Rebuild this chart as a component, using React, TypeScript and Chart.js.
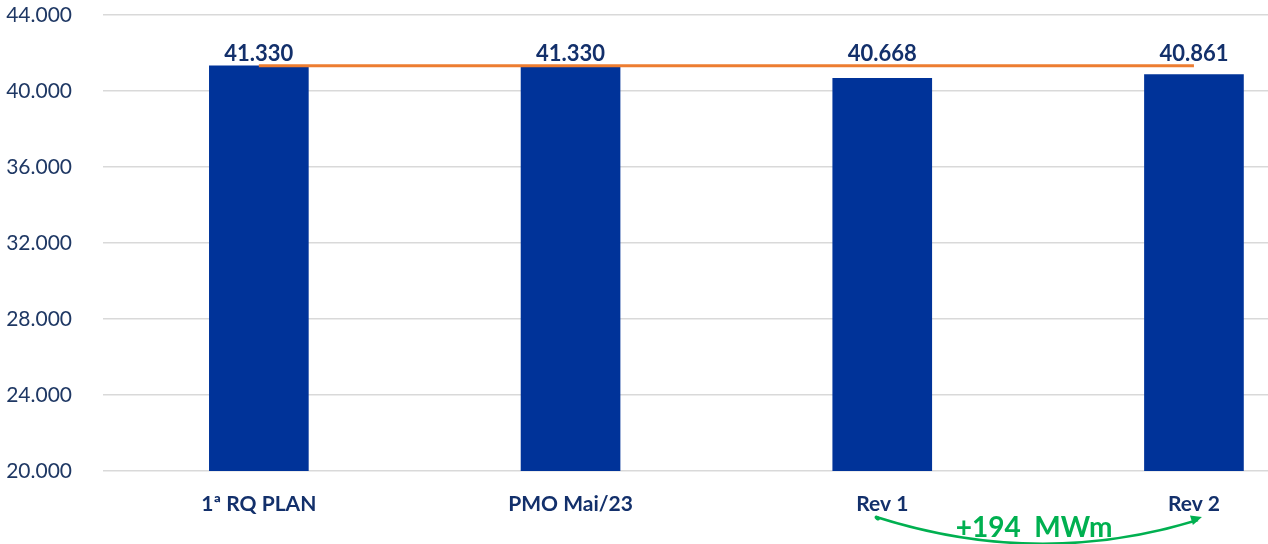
import React, { useEffect, useRef } from 'react';
import { Chart, registerables } from 'chart.js';

Chart.register(...registerables);

const categories = ['1ª RQ PLAN', 'PMO Mai/23', 'Rev 1', 'Rev 2'];
const cargaValues = [41330, 41330, 40668, 40861];
const referenceValues = [41330, 41330, 41330, 41330];
const yMin = 20000;
const yMax = 44000;
const yStep = 4000;
const deltaLabel = '+194  MWm';

const FONT = 'Lato, "Open Sans", sans-serif';
const NAVY = '#13306b';
const BAR = '#003399';
const ORANGE = '#ED7D31';
const GREEN = '#00B050';

const fmt = (v: number) => {
  const s = Math.round(v).toString();
  return s.replace(/\B(?=(\d{3})+(?!\d))/g, '.');
};

const labelsPlugin = {
  id: 'valueLabels',
  afterDatasetsDraw(chart: any) {
    const ctx = chart.ctx;
    const meta = chart.getDatasetMeta(0);
    const y = chart.scales.y.getPixelForValue(referenceValues[0]);
    ctx.save();
    ctx.font = `bold 22px ${FONT}`;
    ctx.fillStyle = NAVY;
    ctx.textAlign = 'center';
    ctx.textBaseline = 'alphabetic';
    meta.data.forEach((bar: any, i: number) => {
      ctx.fillText(fmt(cargaValues[i]), bar.x, y - 5);
    });
    ctx.restore();
  },
  afterDraw(chart: any) {
    const ctx = chart.ctx;
    const xs = chart.scales.x;
    const x1 = xs.getPixelForValue(2) - 6;
    const x2 = xs.getPixelForValue(3) + 8;
    const yA = 517;
    ctx.save();
    ctx.strokeStyle = GREEN;
    ctx.fillStyle = GREEN;
    ctx.lineWidth = 2.5;
    const cx = (x1 + x2) / 2;
    const cy = 569;
    ctx.beginPath();
    ctx.moveTo(x1, yA);
    ctx.quadraticCurveTo(cx, cy, x2 - 4, yA + 3);
    ctx.stroke();
    const ang = Math.atan2(yA + 3 - cy, x2 - 4 - cx);
    const tipX = x2;
    const tipY = yA;
    const len = 11;
    const w = 5;
    ctx.beginPath();
    ctx.moveTo(tipX, tipY);
    ctx.lineTo(tipX - len * Math.cos(ang) + w * Math.sin(ang), tipY - len * Math.sin(ang) - w * Math.cos(ang));
    ctx.lineTo(tipX - len * Math.cos(ang) - w * Math.sin(ang), tipY - len * Math.sin(ang) + w * Math.cos(ang));
    ctx.closePath();
    ctx.fill();
    ctx.beginPath();
    ctx.ellipse(x1 + 1, yA + 1, 3, 2, 0.6, 0, Math.PI * 2);
    ctx.fill();
    ctx.font = `bold 28px ${FONT}`;
    ctx.textAlign = 'center';
    ctx.textBaseline = 'alphabetic';
    ctx.fillText(deltaLabel, (x1 + x2) / 2 - 5, 537);
    ctx.restore();
  },
};

export default function App() {
  const ref = useRef<HTMLCanvasElement | null>(null);
  useEffect(() => {
    if (!ref.current) return;
    const chart = new Chart(ref.current, {
      type: 'bar',
      data: {
        datasets: [
          {
            type: 'bar',
            data: categories.map((_, i) => ({ x: i, y: cargaValues[i] })),
            backgroundColor: BAR,
            barThickness: 99,
            order: 1,
          } as any,
          {
            type: 'line',
            data: categories.map((_, i) => ({ x: i, y: referenceValues[i] })),
            borderColor: ORANGE,
            borderWidth: 3,
            pointRadius: 0,
            fill: false,
            order: 0,
          } as any,
        ],
      },
      options: {
        animation: false,
        responsive: true,
        maintainAspectRatio: false,
        layout: { padding: { top: 15, right: 0, bottom: 0, left: 0 } },
        plugins: { legend: { display: false }, tooltip: { enabled: false } },
        scales: {
          x: {
            type: 'linear',
            offset: false,
            min: -0.5,
            max: -0.5 + (1268 - 103) / 311.7,
            afterBuildTicks: (s: any) => {
              s.ticks = categories.map((_, i) => ({ value: i }));
            },
            afterFit: (s: any) => {
              s.height = 73;
              s.paddingTop = 0;
              s.paddingBottom = 0;
              s.paddingLeft = 0;
              s.paddingRight = 0;
            },
            grid: { display: false, drawTicks: false },
            border: { display: false },
            ticks: {
              autoSkip: false,
              maxRotation: 0,
              padding: 21,
              color: NAVY,
              font: { family: FONT, size: 21, weight: 'bold' },
              callback: (v: any) => categories[Math.round(Number(v))] ?? '',
            },
          },
          y: {
            min: yMin,
            max: yMax,
            afterFit: (s: any) => {
              s.width = 103;
              s.paddingTop = 0;
              s.paddingBottom = 0;
            },
            grid: { color: '#d9d9d9', lineWidth: 1.5, drawTicks: false },
            border: { display: false },
            ticks: {
              stepSize: yStep,
              padding: 31,
              color: '#1F3864',
              font: { family: FONT, size: 21 },
              callback: (v: any) => fmt(Number(v)),
            },
          },
        },
      },
      plugins: [labelsPlugin],
    });
    return () => chart.destroy();
  }, []);
  return (
    <div style={{ position: 'absolute', left: 0, top: 0, width: '1268px', height: '544px', background: '#fff' }}>
      <canvas ref={ref} />
    </div>
  );
}
